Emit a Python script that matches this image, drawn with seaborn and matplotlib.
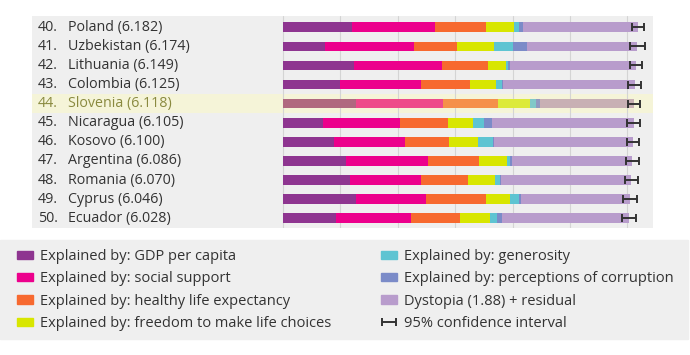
import numpy as np
import pandas as pd
import matplotlib.pyplot as plt
from matplotlib.patches import Patch, Rectangle
import seaborn as sns

ranks = [40, 41, 42, 43, 44, 45, 46, 47, 48, 49, 50]
countries = ["Poland", "Uzbekistan", "Lithuania", "Colombia", "Slovenia", "Nicaragua",
             "Kosovo", "Argentina", "Romania", "Cyprus", "Ecuador"]
scores = [6.182, 6.174, 6.149, 6.125, 6.118, 6.105, 6.100, 6.086, 6.070, 6.046, 6.028]

gdp = [1.21, 0.73, 1.24, 0.99, 1.27, 0.70, 0.89, 1.10, 1.17, 1.27, 0.92]
social = [1.44, 1.55, 1.53, 1.41, 1.52, 1.33, 1.23, 1.43, 1.24, 1.22, 1.31]
health = [0.88, 0.76, 0.81, 0.86, 0.95, 0.84, 0.77, 0.89, 0.82, 1.05, 0.86]
freedom = [0.49, 0.64, 0.31, 0.45, 0.56, 0.44, 0.50, 0.48, 0.47, 0.42, 0.51]
generosity = [0.09, 0.32, 0.025, 0.10, 0.105, 0.20, 0.27, 0.055, 0.085, 0.16, 0.12]
corruption = [0.07, 0.25, 0.035, 0.03, 0.08, 0.13, 0.01, 0.04, 0.005, 0.03, 0.09]
dystopia = [2.00, 1.92, 2.20, 2.29, 1.63, 2.47, 2.43, 2.09, 2.28, 1.90, 2.22]
ci_half = [0.10, 0.125, 0.10, 0.12, 0.11, 0.12, 0.11, 0.11, 0.11, 0.12, 0.115]

legend_labels = ["Explained by: GDP per capita", "Explained by: social support",
                 "Explained by: healthy life expectancy",
                 "Explained by: freedom to make life choices",
                 "Explained by: generosity", "Explained by: perceptions of corruption",
                 "Dystopia (1.88) + residual"]

highlight = "Slovenia"

colors = ["#8e3590", "#ec008c", "#f7692f", "#d8e600", "#5ec4d2", "#7b8bc8", "#b89ccc"]
muted = ["#b0687f", "#ee4a8a", "#f5904a", "#dcea3a", "#80c8c8", "#9098c0", "#c8b0b4"]

sns.set_style("white")
plt.rcParams["font.family"] = ["Open Sans", "DejaVu Sans"]

df = pd.DataFrame({"country": countries, "gdp": gdp, "social": social, "health": health,
                   "freedom": freedom, "generosity": generosity,
                   "corruption": corruption, "dystopia": dystopia})
parts = ["gdp", "social", "health", "freedom", "generosity", "corruption", "dystopia"]
cum = df[parts].cumsum(axis=1)
cum["country"] = df["country"]

fig = plt.figure(figsize=(6.9, 3.55), dpi=100)
px = 57.4  # pixels per unit
x0 = 283
left_px, right_px = 32, 653
ax = fig.add_axes([left_px / 690, 1 - 228 / 355, (right_px - left_px) / 690, (228 - 16) / 355])
ax.set_facecolor("#efefef")

# highlight band
idx = countries.index(highlight)
ax.axhspan(idx - 0.5, idx + 0.5, color="#f5f4d8", zorder=0.4, lw=0)

# stacked bars, largest cumulative first
for k in range(len(parts) - 1, -1, -1):
    pal = {c: (muted[k] if c == highlight else colors[k]) for c in countries}
    sns.barplot(data=cum, x=parts[k], y="country", hue="country", palette=pal,
                order=countries, orient="h", width=0.5, errorbar=None,
                legend=False, linewidth=0, saturation=1, ax=ax, zorder=2)

eb = ax.errorbar(scores, np.arange(len(countries)), xerr=ci_half, fmt="none",
                 ecolor="#333333", elinewidth=1.4, capsize=3, capthick=1.4, zorder=3)

ax.set_xlim(-(x0 - left_px) / px, (right_px - x0) / px)
ax.set_ylim(10.51, -0.59)
ax.set_xticks(range(7))
ax.grid(axis="x", color="#d4d4d4", lw=0.8)
ax.grid(axis="y", visible=False)
ax.set_axisbelow(True)
ax.tick_params(length=0, labelbottom=False, labelleft=False)
ax.set_xlabel("")
ax.set_ylabel("")
for s in ax.spines.values():
    s.set_visible(False)

for i, (r, c, s) in enumerate(zip(ranks, countries, scores)):
    col = "#8a8a40" if c == highlight else "#333333"
    ax.text((38 - x0) / px, i, f"{r}.", va="center", ha="left", fontsize=10.3, color=col)
    ax.text((68 - x0) / px, i, f"{c} ({s:.3f})", va="center", ha="left",
            fontsize=10.3, color=col)

# legend panel
fig.patches.append(Rectangle((0, 1 - 339 / 355), 688 / 690, (339 - 240) / 355,
                             transform=fig.transFigure, color="#efefef", zorder=0))
handles = [Patch(color=c) for c in colors] + [eb]
labels = legend_labels + ["95% confidence interval"]
fig.legend(handles, labels, ncol=2, loc="upper left", bbox_to_anchor=(17 / 690, 1 - 249 / 355),
           frameon=False, fontsize=10.5, handlelength=1.1, handleheight=0.5,
           handletextpad=0.5, labelspacing=0.5, columnspacing=3.4,
           borderpad=0, borderaxespad=0, labelcolor="#333333")

fig.savefig("out.png", dpi=100)
